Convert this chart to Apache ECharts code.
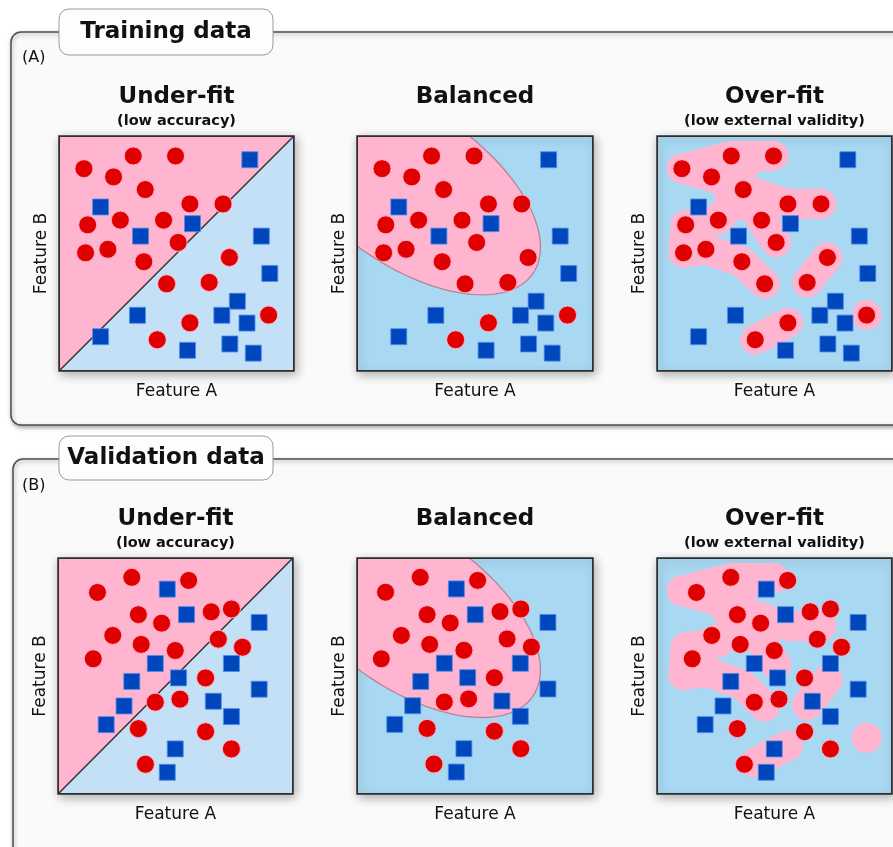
<!DOCTYPE html>
<html>
<head>
<meta charset="utf-8">
<script src="https://cdn.jsdelivr.net/npm/echarts@6/dist/echarts.min.js"></script>
<style>
  html, body { margin: 0; padding: 0; background: #ffffff; }
  #chart { width: 893px; height: 847px; }
</style>
</head>
<body>
<div id="chart"></div>
<script>
// ---- Training set (same points in the three upper panels), Feature A / Feature B on 0..100 ----
const trainRed = [
  [10.6, 86.1], [31.6, 91.5], [49.6, 91.5], [23.2, 82.6], [36.7, 77.2],
  [55.7, 71.1], [69.8, 71.1], [12.2, 62.2], [26.1, 64.2], [44.5, 64.2],
  [50.7, 54.7], [11.3, 50.3], [20.8, 51.8], [36.1, 46.5], [72.5, 48.3],
  [45.8, 37.1], [63.9, 37.7], [55.7, 20.5], [41.8, 13.3], [89.2, 23.8]
];
const trainBlue = [
  [81.2, 89.9], [17.7, 69.8], [56.8, 62.7], [34.7, 57.4], [86.1, 57.4],
  [89.7, 41.5], [75.9, 29.7], [33.4, 23.7], [69.3, 23.7], [80.0, 20.4],
  [17.7, 14.6], [54.7, 8.8], [72.7, 11.5], [82.7, 7.6]
];

// ---- Validation set ----
const validRed = [
  [16.8, 85.4], [31.4, 91.8], [55.6, 90.5], [34.2, 76.0], [44.1, 72.4],
  [23.3, 67.2], [35.4, 63.4], [15.0, 57.3], [49.9, 60.8], [65.2, 77.2],
  [73.8, 78.4], [68.2, 65.6], [78.5, 62.2], [62.8, 49.2], [51.9, 40.2],
  [41.4, 38.9], [34.2, 27.7], [62.8, 26.4], [73.8, 19.1], [37.2, 12.6]
];
const validBlue = [
  [46.5, 86.8], [54.7, 76.0], [85.6, 72.7], [41.4, 55.3], [73.8, 55.3],
  [31.4, 47.7], [51.3, 49.2], [85.6, 44.4], [28.1, 37.3], [66.1, 39.3],
  [73.8, 32.8], [20.5, 29.4], [49.9, 19.1], [46.5, 9.2]
];
// validation points as placed in the "Balanced" panel
const validRedBalanced = [
  [12.1, 85.5], [26.8, 91.8], [51.1, 90.5], [29.7, 76.0], [39.5, 72.5],
  [18.8, 67.2], [30.8, 63.4], [10.3, 57.3], [45.3, 60.9], [60.6, 77.3],
  [69.4, 78.4], [63.6, 65.7], [73.9, 62.3], [58.2, 49.3], [47.3, 40.3],
  [37.0, 39.0], [29.7, 27.8], [58.2, 26.6], [69.4, 19.2], [32.6, 12.7]
];
const validBlueBalanced = [
  [42.1, 86.9], [50.1, 76.0], [80.9, 72.7], [37.0, 55.4], [69.2, 55.4],
  [27.0, 47.7], [46.9, 49.3], [80.9, 44.5], [23.6, 37.4], [61.4, 39.4],
  [69.2, 32.9], [16.0, 29.5], [45.3, 19.2], [42.1, 9.3]
];

// ---- Decision regions ----
// balanced model: tilted ellipse (centre, semi-axes, tilt in degrees)
const ellipseCenter = [22, 78];
const ellipseAxes = [64, 33];
const ellipseTilt = -35;
// over-fitted model: pink blobs hugging the training red points (indices into trainRed)
const overfitChains = [
  [0, 1, 2], [0, 3, 4], [4, 5, 6], [4, 8, 7, 11, 12, 13, 15], [4, 9, 10],
  [14, 16], [17, 18], [19]
];
const overfitFills = [[0, 1, 2, 4, 3], [8, 7, 11, 12], [4, 8, 9], [3, 4, 8], [4, 5, 9]];

// ---- Texts ----
const groupTitles = ['Training data', 'Validation data'];
const groupTags = ['(A)', '(B)'];
const panelTitles = ['Under-fit', 'Balanced', 'Over-fit'];
const panelSubtitles = ['(low accuracy)', '', '(low external validity)'];
const xName = 'Feature A';
const yName = 'Feature B';

// ---- Styling ----
const FONT = '"DejaVu Sans", Verdana, sans-serif';
const PINK = '#ffb4cf';
const BLUE_LIGHT = '#c3e0f6';
const BLUE = '#a8d8f2';
const RED = '#e00000';
const SQUARE = '#0047bd';

const panels = [
  { box: { left: 59, top: 136, width: 235, height: 235 }, kind: 0, red: trainRed, blue: trainBlue },
  { box: { left: 357, top: 136, width: 236, height: 235 }, kind: 1, red: trainRed, blue: trainBlue },
  { box: { left: 657, top: 136, width: 235, height: 235 }, kind: 2, red: trainRed, blue: trainBlue },
  { box: { left: 58, top: 558, width: 235, height: 236 }, kind: 0, red: validRed, blue: validBlue },
  { box: { left: 357, top: 558, width: 236, height: 236 }, kind: 1, red: validRedBalanced, blue: validBlueBalanced },
  { box: { left: 657, top: 558, width: 235, height: 236 }, kind: 2, red: validRed, blue: validBlue }
];

function frameRect(api) {
  const tl = api.coord([0, 100]), br = api.coord([100, 0]);
  return {
    type: 'rect',
    shape: { x: tl[0], y: tl[1], width: br[0] - tl[0], height: br[1] - tl[1] },
    style: { fill: null, stroke: '#2e2e2e', lineWidth: 2 }
  };
}

function renderUnderfit(params, api) {
  const bl = api.coord([0, 0]), tl = api.coord([0, 100]);
  const tr = api.coord([100, 100]), br = api.coord([100, 0]);
  return {
    type: 'group',
    children: [
      { type: 'polygon', shape: { points: [bl, tl, tr] }, style: { fill: PINK } },
      { type: 'polygon', shape: { points: [bl, br, tr] }, style: { fill: BLUE_LIGHT } },
      { type: 'line', shape: { x1: bl[0], y1: bl[1], x2: tr[0], y2: tr[1] },
        style: { stroke: '#333333', lineWidth: 1.5, fill: null } },
      frameRect(api)
    ]
  };
}

function renderBalanced(params, api) {
  const cx = ellipseCenter[0], cy = ellipseCenter[1];
  const a = ellipseAxes[0], b = ellipseAxes[1];
  const t = ellipseTilt * Math.PI / 180;
  const pts = [];
  const n = 120;
  for (let k = 0; k < n; k++) {
    const s = k / n * 2 * Math.PI;
    const u = a * Math.cos(s), v = b * Math.sin(s);
    pts.push(api.coord([
      cx + u * Math.cos(t) - v * Math.sin(t),
      cy + u * Math.sin(t) + v * Math.cos(t)
    ]));
  }
  return {
    type: 'group',
    children: [
      { type: 'polygon', shape: { points: pts }, style: { fill: PINK, stroke: '#b58597', lineWidth: 1.3 } },
      frameRect(api)
    ]
  };
}

function renderOverfit(params, api) {
  const W = 30;
  const pt = i => api.coord(trainRed[i]);
  const children = [];
  overfitFills.forEach(f => {
    children.push({ type: 'polygon', shape: { points: f.map(pt) }, style: { fill: PINK } });
  });
  overfitChains.forEach(c => {
    if (c.length === 1) {
      const p = pt(c[0]);
      children.push({ type: 'circle', shape: { cx: p[0], cy: p[1], r: W / 2 }, style: { fill: PINK } });
    } else {
      children.push({
        type: 'polyline', shape: { points: c.map(pt) },
        style: { stroke: PINK, lineWidth: W, lineCap: 'round', lineJoin: 'round', fill: null }
      });
    }
  });
  children.push(frameRect(api));
  return { type: 'group', children };
}

const renderers = [renderUnderfit, renderBalanced, renderOverfit];

const grids = [], xAxes = [], yAxes = [], series = [];
panels.forEach((p, i) => {
  grids.push(Object.assign({
    show: true,
    backgroundColor: BLUE,
    borderColor: '#2e2e2e',
    borderWidth: 1.5,
    shadowBlur: 10,
    shadowColor: 'rgba(0,0,0,0.3)',
    shadowOffsetX: 2,
    shadowOffsetY: 3
  }, p.box));
  const axisCommon = {
    gridIndex: i, type: 'value', min: 0, max: 100,
    nameLocation: 'middle',
    nameTextStyle: { fontFamily: FONT, fontSize: 17, color: '#111111' },
    axisLine: { show: false }, axisTick: { show: false },
    axisLabel: { show: false }, splitLine: { show: false }
  };
  xAxes.push(Object.assign({}, axisCommon, { name: xName, nameGap: 12 }));
  yAxes.push(Object.assign({}, axisCommon, { name: yName, nameGap: 9 }));

  series.push({
    type: 'custom', xAxisIndex: i, yAxisIndex: i, z: 1, clip: true, silent: true,
    renderItem: renderers[p.kind], data: [[0, 0]]
  });
  series.push({
    type: 'scatter', xAxisIndex: i, yAxisIndex: i, z: 3, symbol: 'circle', symbolSize: 18,
    itemStyle: { color: RED, borderColor: 'rgba(255,175,205,0.9)', borderWidth: 1, opacity: 1 },
    data: p.red
  });
  series.push({
    type: 'scatter', xAxisIndex: i, yAxisIndex: i, z: 4, symbol: 'rect', symbolSize: 16,
    itemStyle: { color: SQUARE, borderColor: 'rgba(80,140,235,0.8)', borderWidth: 1, opacity: 1 },
    data: p.blue
  });
});

// group frames, tabs and headings
const graphics = [];
const frames = [
  { x: 11, y: 32, width: 900, height: 393, tabY: 9, tabH: 46, tagY: 58 },
  { x: 13, y: 459, width: 900, height: 420, tabY: 436, tabH: 44, tagY: 486 }
];
frames.forEach((f, g) => {
  graphics.push({
    type: 'rect', z: -20,
    shape: { x: f.x, y: f.y, width: f.width, height: f.height, r: 10 },
    style: { fill: '#fafafa', stroke: '#4d4d4d', lineWidth: 1.5,
      shadowBlur: 4, shadowOffsetX: 1, shadowOffsetY: 2, shadowColor: 'rgba(0,0,0,0.35)' }
  });
  graphics.push({
    type: 'rect', z: -19,
    shape: { x: 59, y: f.tabY, width: 214, height: f.tabH, r: 10 },
    style: { fill: '#fdfdfd', stroke: '#9a9a9a', lineWidth: 1 }
  });
  graphics.push({
    type: 'text', z: 10, x: 166, y: f.tabY + f.tabH / 2,
    style: { text: groupTitles[g], font: 'bold 23px ' + FONT, fill: '#111111',
      align: 'center', verticalAlign: 'middle', textAlign: 'center', textVerticalAlign: 'middle' }
  });
  graphics.push({
    type: 'text', z: 10, x: 22, y: f.tagY,
    style: { text: groupTags[g], font: '16px ' + FONT, fill: '#111111',
      align: 'left', verticalAlign: 'middle', textAlign: 'left', textVerticalAlign: 'middle' }
  });
});
panels.forEach((p, i) => {
  const cx = p.box.left + p.box.width / 2;
  const base = p.box.top - 39;
  graphics.push({
    type: 'text', z: 10, x: cx, y: base,
    style: { text: panelTitles[p.kind], font: 'bold 23px ' + FONT, fill: '#111111',
      align: 'center', verticalAlign: 'middle', textAlign: 'center', textVerticalAlign: 'middle' }
  });
  if (panelSubtitles[p.kind]) {
    graphics.push({
      type: 'text', z: 10, x: cx, y: base + 24,
      style: { text: panelSubtitles[p.kind], font: 'bold 14.5px ' + FONT, fill: '#111111',
        align: 'center', verticalAlign: 'middle', textAlign: 'center', textVerticalAlign: 'middle' }
    });
  }
});

const chart = echarts.init(document.getElementById('chart'), null, { renderer: 'canvas' });
chart.setOption({
  animation: false,
  backgroundColor: '#ffffff',
  graphic: { elements: graphics },
  grid: grids,
  xAxis: xAxes,
  yAxis: yAxes,
  series: series
});
</script>
</body>
</html>
